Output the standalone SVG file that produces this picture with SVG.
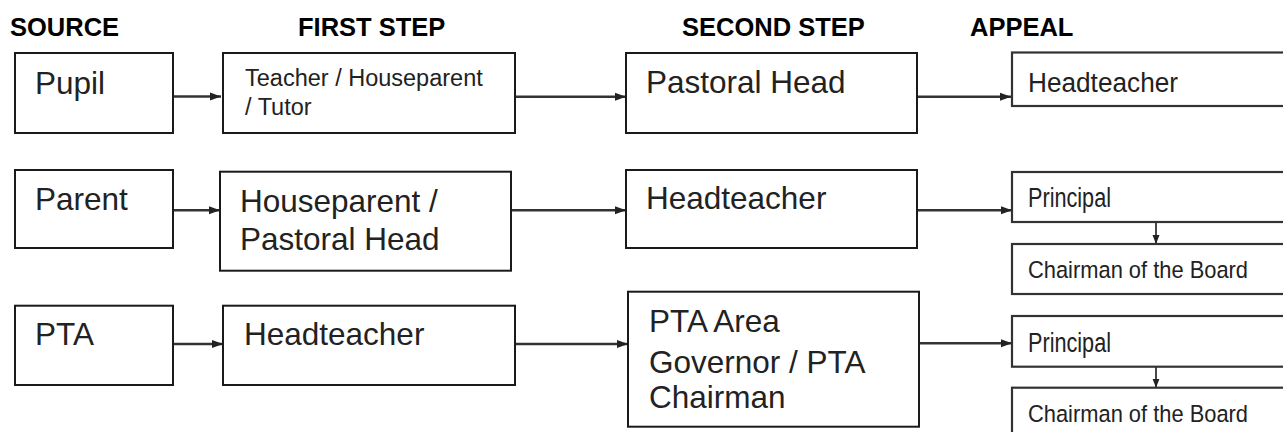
<svg xmlns="http://www.w3.org/2000/svg" width="1283" height="432" viewBox="0 0 1283 432">
<style>
.box{fill:#fff;stroke:#1a1a1a;stroke-width:2}
.abox{fill:#fff;stroke:#333;stroke-width:2.2}
.hdr{font-family:"Liberation Sans",Arial,sans-serif;font-weight:bold;font-size:25.5px;fill:#000}
.t{font-family:"Liberation Sans",Arial,sans-serif;font-size:31.5px;fill:#222}
.ts{font-family:"Liberation Sans",Arial,sans-serif;font-size:23.5px;fill:#222}
.ta{font-family:"Liberation Sans",Arial,sans-serif;font-size:27px;fill:#222}
.tc{font-family:"Liberation Sans",Arial,sans-serif;font-size:24.5px;fill:#222}
.c{stroke:#333;stroke-width:2.5;fill:none;marker-end:url(#ah)}
.cv{stroke:#333;stroke-width:1.8;fill:none;marker-end:url(#ahv)}
</style>
<defs>
<marker id="ah" markerUnits="userSpaceOnUse" markerWidth="12" markerHeight="10" refX="11" refY="5" orient="auto">
<path d="M0,1 L11,5 L0,9 Z" fill="#222"/>
</marker>
<marker id="ahv" markerUnits="userSpaceOnUse" markerWidth="10" markerHeight="10" refX="9" refY="4" orient="auto">
<path d="M0,0.5 L9,4 L0,7.5 Z" fill="#222"/>
</marker>
</defs>
<rect width="1283" height="432" fill="#fff"/>
<g id="headers">
<text class="hdr" x="10" y="36">SOURCE</text>
<text class="hdr" x="298" y="36">FIRST STEP</text>
<text class="hdr" x="682" y="36">SECOND STEP</text>
<text class="hdr" x="970" y="36">APPEAL</text>
</g>
<g id="connectors">
<line class="c" x1="163" y1="96.5" x2="221" y2="96.5"/>
<line class="c" x1="512" y1="96.7" x2="626" y2="96.7"/>
<line class="c" x1="918" y1="96.7" x2="1011" y2="96.7"/>
<line class="c" x1="173" y1="210.3" x2="220" y2="210.3"/>
<line class="c" x1="511" y1="210.3" x2="626" y2="210.3"/>
<line class="c" x1="917" y1="210.3" x2="1012" y2="210.3"/>
<line class="cv" x1="1156" y1="222" x2="1156" y2="244"/>
<line class="c" x1="173" y1="344" x2="223" y2="344"/>
<line class="c" x1="515" y1="344" x2="628" y2="344"/>
<line class="c" x1="919" y1="343.3" x2="1012" y2="343.3"/>
<line class="cv" x1="1156" y1="366.7" x2="1156" y2="387.7"/>
</g>
<g id="pupil"><rect class="box" x="15" y="53" width="158" height="80"/><text class="t" x="35" y="93.5">Pupil</text></g>
<g id="teacher"><rect class="box" x="223" y="53" width="292" height="80"/><text class="ts" x="245" y="86">Teacher / Houseparent</text><text class="ts" x="245" y="114.5">/ Tutor</text></g>
<g id="pastoral1"><rect class="box" x="626" y="53" width="291" height="80"/><text class="t" x="646" y="93">Pastoral Head</text></g>
<g id="head-appeal1"><rect class="abox" x="1012" y="52.5" width="280" height="53.5"/><text class="ta" x="1028" y="92" textLength="150" lengthAdjust="spacingAndGlyphs">Headteacher</text></g>

<g id="parent"><rect class="box" x="15" y="170" width="158" height="78"/><text class="t" x="35" y="210">Parent</text></g>
<g id="houseparent"><rect class="box" x="220" y="171.7" width="291" height="99"/><text class="t" x="240" y="211.7">Houseparent /</text><text class="t" x="240" y="250">Pastoral Head</text></g>
<g id="head2"><rect class="box" x="626" y="170" width="291" height="78"/><text class="t" x="646" y="209">Headteacher</text></g>
<g id="principal2"><rect class="abox" x="1012" y="172" width="280" height="50"/><text class="ta" x="1028" y="206.7" textLength="83" lengthAdjust="spacingAndGlyphs">Principal</text></g>
<g id="chairman2"><rect class="abox" x="1012" y="244" width="280" height="50"/><text class="tc" x="1028" y="278" textLength="220" lengthAdjust="spacingAndGlyphs">Chairman of the Board</text></g>

<g id="pta"><rect class="box" x="15" y="305.7" width="158" height="79.3"/><text class="t" x="35" y="345">PTA</text></g>
<g id="head3"><rect class="box" x="223" y="305.7" width="292" height="79.3"/><text class="t" x="244" y="345">Headteacher</text></g>
<g id="pta-area"><rect class="box" x="628" y="291.7" width="291" height="135"/><text class="t" x="649" y="331.7">PTA Area</text><text class="t" x="649" y="373.3">Governor / PTA</text><text class="t" x="649" y="408.3">Chairman</text></g>
<g id="principal3"><rect class="abox" x="1012" y="316" width="280" height="50.7"/><text class="ta" x="1028" y="351.7" textLength="83" lengthAdjust="spacingAndGlyphs">Principal</text></g>
<g id="chairman3"><rect class="abox" x="1012" y="387.7" width="280" height="60"/><text class="tc" x="1028" y="421.7" textLength="220" lengthAdjust="spacingAndGlyphs">Chairman of the Board</text></g>
</svg>
